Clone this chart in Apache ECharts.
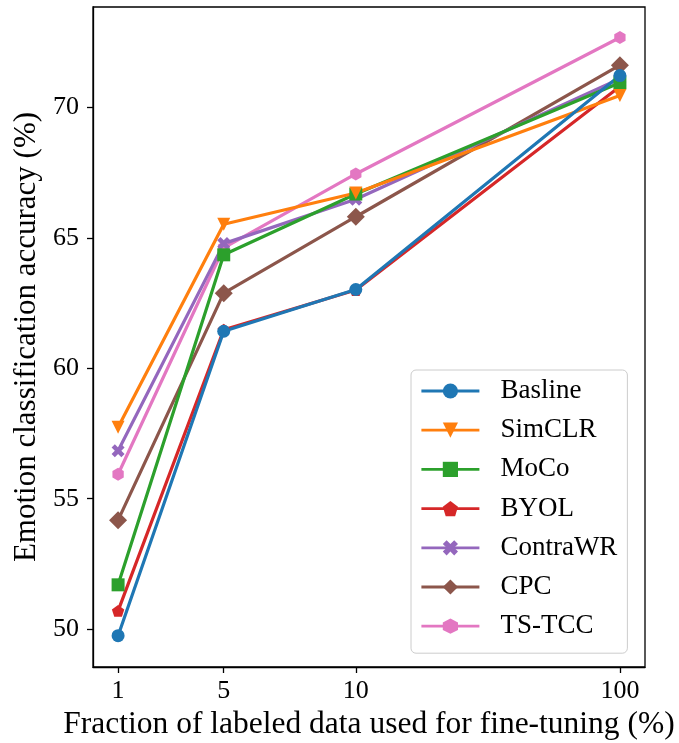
<!DOCTYPE html>
<html>
<head>
<meta charset="utf-8">
<script src="https://cdn.jsdelivr.net/npm/echarts@6/dist/echarts.min.js"></script>
<style>html,body{margin:0;padding:0;background:#fff;}#c{width:679px;height:743px;}</style>
</head>
<body>
<div id="c"></div>
<script>
// x positions used for plotting (evenly spaced index-like), with displayed tick labels
const xPositions = [1, 5, 10, 20];
const xTickLabels = ['1', '5', '10', '100'];
const yTicks = [50, 55, 60, 65, 70];

const seriesNames = ['Basline', 'SimCLR', 'MoCo', 'BYOL', 'ContraWR', 'CPC', 'TS-TCC'];
const baseline = [49.75, 61.42, 63.02, 71.22];
const simclr   = [57.74, 65.52, 66.72, 70.46];
const moco     = [51.70, 64.35, 66.68, 70.95];
const byol     = [50.70, 61.48, 63.00, 70.80];
const contrawr = [56.84, 64.78, 66.48, 71.10];
const cpc      = [54.18, 62.88, 65.81, 71.62];
const tstcc    = [55.94, 64.62, 67.45, 72.68];

const seriesValues = [baseline, simclr, moco, byol, contrawr, cpc, tstcc];
const colors = ['#1f77b4', '#ff7f0e', '#2ca02c', '#d62728', '#9467bd', '#8c564b', '#e377c2'];

const PENT = 'path://M0,-1 L0.951,-0.309 L0.588,0.809 L-0.588,0.809 L-0.951,-0.309 Z';
const HEX = 'path://M0,-1 L0.866,-0.5 L0.866,0.5 L0,1 L-0.866,0.5 L-0.866,-0.5 Z';
const XFILL = 'path://M2,-4 L4,-2 L2,0 L4,2 L2,4 L0,2 L-2,4 L-4,2 L-2,0 L-4,-2 L-2,-4 L0,-2 Z';
const TRI_DOWN = 'path://M-1,-1 L1,-1 L0,1 Z';
const symbols = ['circle', TRI_DOWN, 'rect', PENT, XFILL, 'diamond', HEX];
const symbolSizes = [13, 13, 13, [12.4, 11.8], 13, 18, [11.3, 13]];

const FONT = 'Liberation Serif';

const series = [];
// matplotlib-like draw order observed: last listed drawn first
for (let i = seriesNames.length - 1; i >= 0; i--) {
  series.push({
    name: seriesNames[i],
    type: 'line',
    data: xPositions.map((x, j) => [x, seriesValues[i][j]]),
    symbol: symbols[i],
    symbolSize: symbolSizes[i],
    showAllSymbol: true,
    lineStyle: { color: colors[i], width: 3.2 },
    itemStyle: { color: colors[i] },
    emphasis: { disabled: true },
    animation: false
  });
}

const chart = echarts.init(document.getElementById('c'), null, { renderer: 'canvas' });
chart.setOption({
  backgroundColor: '#fff',
  animation: false,
  grid: { left: 93, right: 34, top: 7, bottom: 76, show: true, borderColor: '#000', borderWidth: 1.3, backgroundColor: 'transparent', containLabel: false, outerBoundsMode: 'none' },
  legend: {
    data: seriesNames,
    orient: 'vertical',
    left: 411,
    top: 370,
    padding: [7, 10, 13, 9],
    itemGap: 11.2,
    itemWidth: 58,
    itemHeight: 19,
    backgroundColor: '#fff',
    borderColor: '#cccccc',
    borderWidth: 1,
    borderRadius: 5,
    lineStyle: { width: 2.8 },
    textStyle: { fontFamily: FONT, fontSize: 27, lineHeight: 28, color: '#000', padding: [0, 0, 0, 16] }
  },
  xAxis: {
    type: 'value',
    min: 0.05,
    max: 20.95,
    name: 'Fraction of labeled data used for fine-tuning (%)',
    nameLocation: 'middle',
    nameGap: 37,
    nameTextStyle: { fontFamily: FONT, fontSize: 31.5, color: '#000' },
    axisLine: { show: true, lineStyle: { color: '#000', width: 1.3 } },
    axisTick: { show: true, inside: false, length: 6, lineStyle: { color: '#000', width: 1.3 }, customValues: xPositions },
    axisLabel: {
      fontFamily: FONT, fontSize: 26, color: '#000', margin: 11,
      customValues: xPositions,
      formatter: function (v) { const k = xPositions.indexOf(v); return k >= 0 ? xTickLabels[k] : ''; }
    },
    splitLine: { show: false }
  },
  yAxis: {
    type: 'value',
    min: 48.55,
    max: 73.85,
    name: 'Emotion classification accuracy (%)',
    nameLocation: 'middle',
    nameGap: 46,
    nameTextStyle: { fontFamily: FONT, fontSize: 31, color: '#000' },
    axisLine: { show: true, lineStyle: { color: '#000', width: 1.3 } },
    axisTick: { show: true, inside: false, length: 6, lineStyle: { color: '#000', width: 1.3 }, customValues: yTicks },
    axisLabel: { fontFamily: FONT, fontSize: 26, color: '#000', margin: 14, customValues: yTicks },
    splitLine: { show: false }
  },
  series: series
});
</script>
</body>
</html>
